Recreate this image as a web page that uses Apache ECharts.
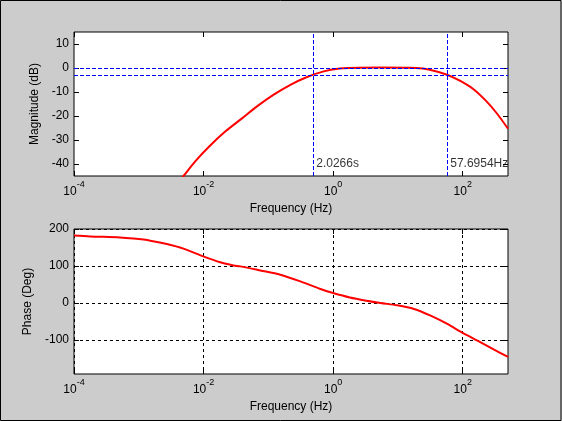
<!DOCTYPE html>
<html>
<head>
<meta charset="UTF-8">
<title>Bode</title>
<script src="https://cdn.jsdelivr.net/npm/echarts@6.0.0/dist/echarts.min.js"></script>
<style>
  html, body { margin: 0; padding: 0; background: #cccccc; }
  #chart { width: 562px; height: 421px; }
</style>
</head>
<body>
<div id="chart"></div>
<script>
// magnitude response (Hz, dB)
const magFreq = [0.00398, 0.0049, 0.00743, 0.012, 0.0218, 0.0392, 0.0668, 0.121, 0.219, 0.396,
                 0.716, 1.26, 1.8, 5.0, 19.1, 30.9, 57.3, 90.2, 145, 233, 333, 500];
const magDb   = [-48, -45, -38.9, -32.9, -26.4, -21.0, -16, -11.1, -7.0, -3.75,
                 -1.4, -0.2, 0, 0.2, 0, -0.7, -2.8, -5.3, -8.75, -13.9, -18.75, -25.3];

// phase response (Hz, deg)
const phaseFreq = [0.0001, 0.000177, 0.000514, 0.000826, 0.0015, 0.00271, 0.0049, 0.0099, 0.0181,
                   0.029, 0.0369, 0.0752, 0.153, 0.313, 0.637, 1, 1.81, 3.27, 5.38, 9.75, 17.7,
                   32, 57.9, 100, 169, 305, 500];
const phaseDeg  = [182.5, 180, 177, 174, 168.5, 159.5, 147, 126, 110,
                   101.5, 99, 88, 76.5, 58.4, 37.8, 27, 15, 6.2, 0, -6.3, -16.2,
                   -34.3, -56.8, -81, -102, -126, -146];

// cutoff markers
const levelLines  = [0, -3];
const cutoffFreqs = [0.4934, 57.6954];
const cutoffTexts = ['2.0266s', '57.6954Hz'];

// ticks
const freqTicks  = [0.0001, 0.01, 1, 100];
const magTicks   = [-40, -30, -20, -10, 0, 10];
const phaseTicks = [-100, 0, 100, 200];

const FONT = "'Liberation Sans', Arial, sans-serif";
const chart = echarts.init(document.getElementById('chart'));

function freqLabel(v) {
  return '{b|10}{s|' + Math.round(Math.log10(v)) + '}';
}

function xAxisBase(grid, pos, withLabels, grid2) {
  return {
    type: 'log', logBase: 10, gridIndex: grid, position: pos,
    min: 0.0001, max: 500,
    name: withLabels ? 'Frequency (Hz)' : '',
    nameLocation: 'middle', nameGap: 27,
    nameTextStyle: { color: '#000', fontSize: 12, fontFamily: FONT },
    axisLine: { show: false, onZero: false },
    axisTick: { show: true, inside: true, length: 5, customValues: freqTicks, lineStyle: { color: '#000' } },
    axisLabel: {
      show: withLabels, customValues: freqTicks, margin: 4, formatter: freqLabel,
      color: '#000', fontFamily: FONT,
      rich: {
        b: { fontSize: 12, lineHeight: 18, verticalAlign: 'bottom', color: '#000', fontFamily: FONT },
        s: { fontSize: 9, lineHeight: 10, verticalAlign: 'top', color: '#000', fontFamily: FONT }
      }
    },
    splitLine: grid2 ? { show: true, lineStyle: { color: '#000', type: [3, 3], width: 1 } } : { show: false }
  };
}

function yAxisBase(grid, pos, withLabels, min, max, ticks, name, gap, split) {
  return {
    type: 'value', gridIndex: grid, position: pos, min: min, max: max,
    name: withLabels ? name : '',
    nameLocation: 'middle', nameGap: gap,
    nameTextStyle: { color: '#000', fontSize: 12, fontFamily: FONT },
    axisLine: { show: false, onZero: false },
    axisTick: { show: true, inside: true, length: 5, customValues: ticks, lineStyle: { color: '#000' } },
    axisLabel: { show: withLabels, customValues: ticks, margin: 5, color: '#000', fontSize: 12, fontFamily: FONT },
    splitLine: split ? { show: true, lineStyle: { color: '#000', type: [3, 3], width: 1 } } : { show: false }
  };
}

const gridStyle = { show: true, backgroundColor: '#fff', borderColor: '#000', borderWidth: 1, containLabel: false };

chart.setOption({
  animation: false,
  backgroundColor: '#cccccc',
  textStyle: { fontFamily: FONT },
  graphic: [{
    type: 'rect', shape: { x: 0.5, y: 0.5, width: 560.5, height: 420 },
    style: { fill: 'none', stroke: '#000', lineWidth: 1 }, silent: true
  }],
  grid: [
    Object.assign({ left: 74, top: 32, width: 434, height: 144 }, gridStyle),
    Object.assign({ left: 74, top: 229, width: 434, height: 145 }, gridStyle)
  ],
  xAxis: [
    xAxisBase(0, 'bottom', true, false),
    xAxisBase(0, 'top', false, false),
    xAxisBase(1, 'bottom', true, true),
    xAxisBase(1, 'top', false, false)
  ],
  yAxis: [
    yAxisBase(0, 'left', true, -45, 15, magTicks, 'Magnitude (dB)', 30, false),
    yAxisBase(0, 'right', false, -45, 15, magTicks, '', 0, false),
    yAxisBase(1, 'left', true, -192, 200, phaseTicks, 'Phase (Deg)', 38, true),
    yAxisBase(1, 'right', false, -192, 200, phaseTicks, '', 0, false)
  ],
  series: [
    {
      type: 'line', xAxisIndex: 0, yAxisIndex: 0, data: [], silent: true,
      markLine: {
        symbol: 'none', silent: true, label: { show: false },
        lineStyle: { color: '#0000ff', type: [4, 2], width: 1 },
        data: levelLines.map(v => ({ yAxis: v })).concat(cutoffFreqs.map(f => ({ xAxis: f })))
      }
    },
    {
      type: 'line', xAxisIndex: 0, yAxisIndex: 0, showSymbol: false, symbol: 'none', smooth: 0.3,
      lineStyle: { color: '#ff0000', width: 2 }, clip: true,
      data: magFreq.map((f, i) => [f, magDb[i]])
    },
    {
      type: 'scatter', xAxisIndex: 0, yAxisIndex: 0, symbolSize: 0, silent: true,
      label: {
        show: true, position: 'right', distance: 3, color: '#000', fontSize: 12, fontFamily: FONT,
        formatter: p => cutoffTexts[p.dataIndex]
      },
      data: cutoffFreqs.map(f => [f, -40])
    },
    {
      type: 'line', xAxisIndex: 2, yAxisIndex: 2, showSymbol: false, symbol: 'none', smooth: 0.3,
      lineStyle: { color: '#ff0000', width: 2 }, clip: true,
      data: phaseFreq.map((f, i) => [f, phaseDeg[i]])
    }
  ]
});
</script>
</body>
</html>
